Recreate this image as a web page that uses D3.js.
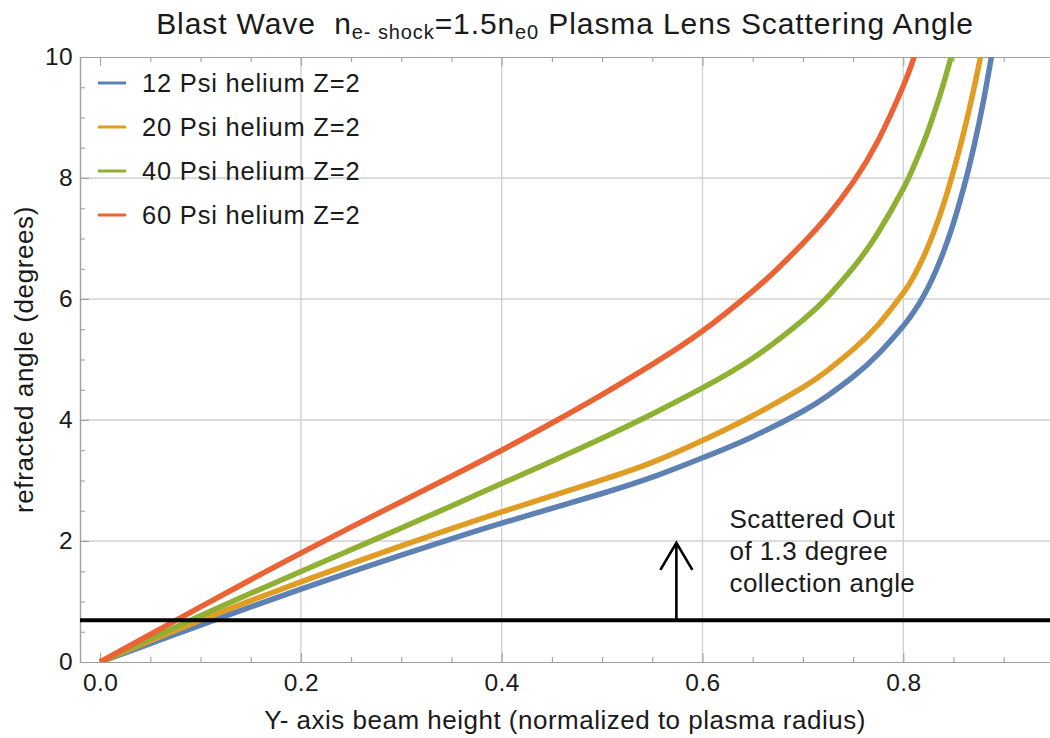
<!DOCTYPE html>
<html>
<head>
<meta charset="utf-8">
<script src="https://cdn.jsdelivr.net/npm/d3@7"></script>
<style>
  body { margin: 0; background: #fff; }
  svg { display: block; font-family: "Liberation Sans", Arial, sans-serif; }
</style>
</head>
<body>
<svg id="chart" width="1050" height="738"></svg>
<script>
// Series: [beam height (normalized), refracted angle (deg)]
const psi12 = [[0,0],[0.05,0.305],[0.1,0.61],[0.15,0.91],[0.2,1.205],[0.25,1.49],[0.3,1.765],[0.35,2.035],[0.4,2.295],[0.45,2.54],[0.5,2.785],[0.55,3.055],[0.6,3.375],[0.65,3.725],[0.7,4.145],[0.725,4.405],[0.75,4.715],[0.775,5.09],[0.8,5.555],[0.81,5.775],[0.82,6.045],[0.83,6.375],[0.84,6.775],[0.85,7.255],[0.86,7.825],[0.87,8.495],[0.88,9.285],[0.89,10.215]];
const psi20 = [[0,0],[0.05,0.35],[0.1,0.69],[0.15,1.015],[0.2,1.325],[0.25,1.625],[0.3,1.92],[0.35,2.205],[0.4,2.48],[0.45,2.745],[0.5,3.01],[0.55,3.3],[0.6,3.66],[0.65,4.07],[0.7,4.54],[0.725,4.825],[0.75,5.165],[0.775,5.575],[0.8,6.1],[0.81,6.36],[0.82,6.69],[0.83,7.09],[0.84,7.56],[0.85,8.11],[0.86,8.74],[0.87,9.45],[0.88,10.25]];
const psi40 = [[0,0],[0.05,0.385],[0.1,0.765],[0.15,1.135],[0.2,1.495],[0.25,1.855],[0.3,2.215],[0.35,2.58],[0.4,2.95],[0.45,3.32],[0.5,3.7],[0.55,4.1],[0.6,4.53],[0.65,5.02],[0.7,5.65],[0.725,6.04],[0.75,6.515],[0.775,7.1],[0.8,7.825],[0.81,8.175],[0.82,8.575],[0.83,9.035],[0.84,9.555],[0.85,10.135]];
const psi60 = [[0,0],[0.05,0.455],[0.1,0.91],[0.15,1.36],[0.2,1.8],[0.25,2.23],[0.3,2.65],[0.35,3.07],[0.4,3.5],[0.45,3.95],[0.5,4.42],[0.55,4.92],[0.6,5.47],[0.65,6.13],[0.675,6.505],[0.7,6.92],[0.725,7.38],[0.75,7.93],[0.775,8.62],[0.8,9.52],[0.81,9.96],[0.82,10.45]];

const seriesNames = ["12 Psi helium Z=2", "20 Psi helium Z=2", "40 Psi helium Z=2", "60 Psi helium Z=2"];
const seriesColors = ["#5E81B5", "#E19C24", "#8FB032", "#EB6235"];
const seriesData = [psi12, psi20, psi40, psi60];

const xMajor = [0, 0.2, 0.4, 0.6, 0.8];
const xMinor = [0.05, 0.1, 0.15, 0.25, 0.3, 0.35, 0.45, 0.5, 0.55, 0.65, 0.7, 0.75, 0.85, 0.9];
const yMajor = [0, 2, 4, 6, 8, 10];
const yMinor = [0.5, 1, 1.5, 2.5, 3, 3.5, 4.5, 5, 5.5, 6.5, 7, 7.5, 8.5, 9, 9.5];
const xGrid = [0.2, 0.4, 0.6, 0.8];
const yGrid = [2, 4, 6, 8];

// Threshold (collection angle) and arrow
const threshold = 0.69;
const arrowX = 0.574;
const arrowTop = 1.97;
const noteLines = ["Scattered Out", "of 1.3 degree", "collection angle"];

const svg = d3.select("#chart");
const plotLeft = 80, plotTop = 57, plotBottom = 662;

const x = d3.scaleLinear().domain([-0.02, 0.96]).range([plotLeft, plotLeft + 0.98 * 1004]);
const y = d3.scaleLinear().domain([0, 10]).range([plotBottom, plotTop]);
const plotRight = x.range()[1];

svg.append("defs").append("clipPath").attr("id", "plot")
  .append("rect").attr("x", plotLeft).attr("y", plotTop)
  .attr("width", plotRight - plotLeft).attr("height", plotBottom - plotTop);

// Grid
svg.append("g").selectAll("line").data(xGrid).join("line")
  .attr("x1", d => x(d)).attr("x2", d => x(d)).attr("y1", plotTop).attr("y2", plotBottom)
  .attr("stroke", "#d0d0d0").attr("stroke-width", 1.3);
svg.append("g").selectAll("line").data(yGrid).join("line")
  .attr("x1", plotLeft).attr("x2", plotRight).attr("y1", d => y(d)).attr("y2", d => y(d))
  .attr("stroke", "#d0d0d0").attr("stroke-width", 1.3);

// Axes (frame)
function styleAxis(g) {
  g.select(".domain").attr("stroke", "#a0a0a0").attr("stroke-width", 1.2);
  g.selectAll(".tick line").attr("stroke", "#a0a0a0").attr("stroke-width", 1.1);
  g.selectAll("text").attr("fill", "#1a1a1a").attr("font-size", 24.5).attr("letter-spacing", 0.4);
  g.attr("font-family", null).attr("font-size", null);
}
const fmtX = d3.format(".1f");

svg.append("g").attr("transform", `translate(0,${plotBottom})`)
  .call(d3.axisBottom(x).tickValues(xMajor).tickFormat(fmtX).tickSize(-9).tickSizeOuter(0).tickPadding(12))
  .call(styleAxis);
svg.append("g").attr("transform", `translate(0,${plotBottom})`)
  .call(d3.axisBottom(x).tickValues(xMinor).tickFormat("").tickSize(-5).tickSizeOuter(0))
  .call(styleAxis);
svg.append("g").attr("transform", `translate(0,${plotTop})`)
  .call(d3.axisTop(x).tickValues(xMajor).tickFormat("").tickSize(-9).tickSizeOuter(0))
  .call(styleAxis);
svg.append("g").attr("transform", `translate(0,${plotTop})`)
  .call(d3.axisTop(x).tickValues(xMinor).tickFormat("").tickSize(-5).tickSizeOuter(0))
  .call(styleAxis);
svg.append("g").attr("transform", `translate(${plotLeft},0)`)
  .call(d3.axisLeft(y).tickValues(yMajor).tickFormat(d3.format("d")).tickSize(-9).tickSizeOuter(0).tickPadding(7))
  .call(styleAxis);
svg.append("g").attr("transform", `translate(${plotLeft},0)`)
  .call(d3.axisLeft(y).tickValues(yMinor).tickFormat("").tickSize(-5).tickSizeOuter(0))
  .call(styleAxis);

// Curves
const line = d3.line().x(d => x(d[0])).y(d => y(d[1])).curve(d3.curveNatural);
svg.append("g").attr("clip-path", "url(#plot)")
  .selectAll("path").data(seriesData).join("path")
  .attr("d", line)
  .attr("fill", "none")
  .attr("stroke", (d, i) => seriesColors[i])
  .attr("stroke-width", 5.5)
  .attr("stroke-linejoin", "round");

// Threshold line
svg.append("line")
  .attr("x1", plotLeft).attr("x2", plotRight)
  .attr("y1", y(threshold)).attr("y2", y(threshold))
  .attr("stroke", "#000").attr("stroke-width", 4);

// Arrow
const ax = x(arrowX), ay0 = y(threshold), ay1 = y(arrowTop);
svg.append("path")
  .attr("d", `M${ax},${ay0}V${ay1}M${ax - 16},${ay1 + 27}L${ax},${ay1}L${ax + 16},${ay1 + 27}`)
  .attr("fill", "none").attr("stroke", "#000").attr("stroke-width", 2.6);

// Annotation
svg.append("text")
  .attr("x", x(0.627)).attr("y", y(2.215))
  .attr("font-size", 26).attr("letter-spacing", 0.4).attr("fill", "#1a1a1a")
  .selectAll("tspan").data(noteLines).join("tspan")
  .attr("x", x(0.627)).attr("dy", (d, i) => i ? 32 : 0)
  .text(d => d);

// Legend
const legend = svg.append("g").selectAll("g").data(seriesNames).join("g")
  .attr("transform", (d, i) => `translate(98,${83 + i * 44})`);
legend.append("line").attr("x1", 0).attr("x2", 28)
  .attr("stroke", (d, i) => seriesColors[i]).attr("stroke-width", 3);
legend.append("text").attr("x", 44).attr("dy", "0.36em")
  .attr("font-size", 25.5).attr("letter-spacing", 0.8).attr("fill", "#1a1a1a").text(d => d);

// Axis labels
svg.append("text").attr("x", (plotLeft + 1050) / 2).attr("y", 729)
  .attr("text-anchor", "middle").attr("font-size", 26).attr("letter-spacing", 0.5).attr("fill", "#1a1a1a")
  .text("Y- axis beam height (normalized to plasma radius)");
svg.append("text").attr("transform", `translate(33,${(plotTop + plotBottom) / 2}) rotate(-90)`)
  .attr("text-anchor", "middle").attr("font-size", 26).attr("letter-spacing", 0.6).attr("fill", "#1a1a1a")
  .text("refracted angle (degrees)");

// Title
const title = svg.append("text").attr("x", (plotLeft + 1050) / 2).attr("y", 34)
  .attr("text-anchor", "middle").attr("font-size", 30).attr("letter-spacing", 0.9).attr("fill", "#1a1a1a");
title.append("tspan").text("Blast Wave\u00a0\u00a0n");
title.append("tspan").attr("font-size", 20).attr("dy", 5).text("e- shock");
title.append("tspan").attr("dy", -5).text("=1.5n");
title.append("tspan").attr("font-size", 20).attr("dy", 5).text("e0");
title.append("tspan").attr("dy", -5).text(" Plasma Lens Scattering Angle");
</script>
</body>
</html>
